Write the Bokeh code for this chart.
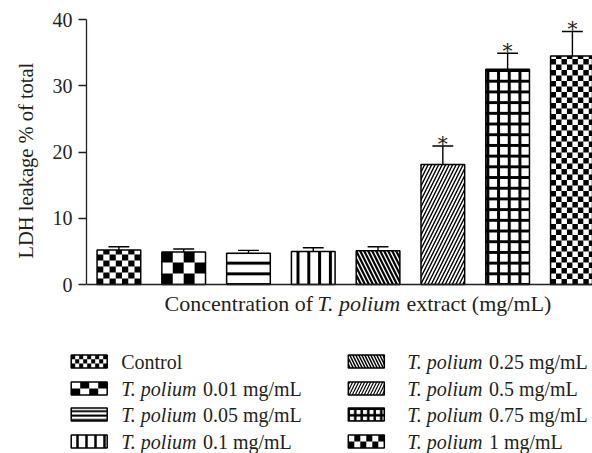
from bokeh.plotting import figure
from bokeh.models import Range1d, FixedTicker, Span, ColumnDataSource, Title
from bokeh.layouts import column, row
from bokeh.core.properties import value
from bokeh.embed import file_html
from bokeh.resources import INLINE

# ---------------- data ----------------
groups = ["Control", "0.01", "0.05", "0.1", "0.25", "0.5", "0.75", "1"]
ldh_values = [5.2, 4.9, 4.7, 5.0, 5.1, 18.1, 32.5, 34.5]
ldh_errors = [0.5, 0.45, 0.45, 0.55, 0.6, 2.8, 2.4, 3.7]
significant = [False, False, False, False, False, True, True, True]
legend_italic = ["", "T. polium", "T. polium", "T. polium", "T. polium", "T. polium", "T. polium", "T. polium"]
legend_regular = ["Control", "0.01 mg/mL", "0.05 mg/mL", "0.1 mg/mL",
                  "0.25 mg/mL", "0.5 mg/mL", "0.75 mg/mL", "1 mg/mL"]
y_ticks = [0, 10, 20, 30, 40]
x_title_parts = ["Concentration of ", "T. polium", " extract (mg/mL)"]
x_title_italic = [False, True, False]
y_title = "LDH leakage % of total"

# ---------------- styles ----------------
FONT = "Liberation Serif"
TXT = "#231f20"
bar_styles = [("checker", 6.3, 6.0), ("checker", 11.0, 11.0), ("-", 10.7, 3.0), ("|", 10.8, 3.0),
              ("\\", 8.0, 2.2), ("/", 7.0, 1.4), ("+", 10.7, 3.0), ("checker", 5.5, 5.5)]
leg_styles = [("checker", 4.0, 4.4), ("checker", 9.0, 6.5), ("-", 4.4, 2.0), ("|", 9.0, 2.5),
              ("\\", 6.0, 1.5), ("/", 6.0, 1.2), ("+", 6.5, 2.5), ("checker", 6.0, 6.5)]

REG = {' ': 250, 'C': 667, 'o': 500, 'n': 500, 'c': 444, 'e': 444, 't': 278, 'r': 333, 'a': 444,
       'i': 278, 'f': 333, 'x': 500, '(': 333, ')': 333, 'm': 778, 'g': 500, '/': 278, 'L': 611,
       '.': 250, 'T': 611, 'p': 500, 'l': 278, 'u': 500}
ITA = {'T': 556, '.': 250, ' ': 250, 'p': 500, 'o': 500, 'l': 278, 'i': 278, 'u': 500, 'm': 722}


def text_width(s, size, italic=False):
    table = ITA if italic else REG
    return sum(table.get(ch, 500) for ch in s) / 1000.0 * size


def checker_cells(x0, x1, y0, y1, cw, ch):
    n = max(1, int(round((x1 - x0) / cw)))
    cw = (x1 - x0) / n
    L, R, B, T = [], [], [], []
    sgn = 1 if y1 > y0 else -1
    iy = 0
    while True:
        b = y0 + sgn * iy * ch
        if sgn * (y1 - b) <= 1e-9:
            break
        t = b + sgn * ch
        if sgn * (t - y1) > 0:
            t = y1
        for ix in range(n):
            if (ix + iy) % 2 == 0:
                L.append(x0 + ix * cw)
                R.append(x0 + (ix + 1) * cw)
                B.append(b)
                T.append(t)
        iy += 1
    return L, R, B, T


# ---------------- main chart ----------------
W = 592
LEFT = 82
MAIN_H = 320          # frame spans 0..320 px; y=0 at 284 px, y=40 at 19 px
PX_PER_Y = 6.625
Y_ZERO_PX = 284
x0 = -0.5
PX_PER_X = 65.3
x1 = x0 + (W - LEFT) / PX_PER_X
y1 = Y_ZERO_PX / PX_PER_Y
y0 = -(MAIN_H - Y_ZERO_PX) / PX_PER_Y
sx, sy = PX_PER_X, PX_PER_Y
BAR_W = 0.674

p = figure(width=W, height=MAIN_H, x_range=Range1d(x0, x1), y_range=Range1d(y0, y1),
           output_backend="svg", toolbar_location=None, x_axis_location=None,
           min_border_left=LEFT, min_border_right=0, min_border_top=0, min_border_bottom=0)
p.outline_line_color = None
p.grid.visible = False
p.background_fill_color = "white"
p.border_fill_color = "white"

xs = list(range(len(groups)))
src = ColumnDataSource(dict(
    x=xs, top=ldh_values,
    hatch=[s[0] if s[0] != "checker" else " " for s in bar_styles],
    hscale=[s[1] for s in bar_styles],
    hweight=[s[2] if s[0] != "checker" else 1.0 for s in bar_styles],
))
p.vbar(x="x", top="top", bottom=0, width=BAR_W, source=src, fill_color="white",
       line_color=None, hatch_pattern="hatch", hatch_scale="hscale", hatch_weight="hweight",
       hatch_color="black")

cl, cr, cb, ct = [], [], [], []
for i, (pat, a, b) in enumerate(bar_styles):
    if pat == "checker":
        L, R, B, T = checker_cells(i - BAR_W / 2, i + BAR_W / 2, 0, ldh_values[i], a / sx, b / sy)
        cl += L; cr += R; cb += B; ct += T
p.quad(left=cl, right=cr, bottom=cb, top=ct, fill_color="black", line_color=None)

p.vbar(x=xs, top=ldh_values, bottom=0, width=BAR_W, fill_color=None, line_color="black",
       line_width=1.5)

err_top = [v + e for v, e in zip(ldh_values, ldh_errors)]
p.segment(x0=xs, y0=ldh_values, x1=xs, y1=err_top, line_color="black", line_width=1.4)
cap = 10.5 / sx
p.segment(x0=[x - cap for x in xs], y0=err_top, x1=[x + cap for x in xs], y1=err_top,
          line_color="black", line_width=1.4)

sx_sig = [x for x, s in zip(xs, significant) if s]
sy_sig = [t for t, s in zip(err_top, significant) if s]
p.text(x=sx_sig, y=sy_sig, text=["*"] * len(sx_sig), text_align="center",
       text_baseline="alphabetic", text_font=value("DejaVu Serif"), text_font_size="20px",
       text_color=TXT, y_offset=-2)

# x axis line (line at y = 0 across the frame)
p.add_layout(Span(location=0, dimension="width", line_color=TXT, line_width=1.5))

ax = p.yaxis[0]
ax.ticker = FixedTicker(ticks=y_ticks)
ax.bounds = (0, 40)
ax.minor_tick_line_color = None
ax.major_tick_in = 0
ax.major_tick_out = 8
ax.major_tick_line_color = TXT
ax.major_tick_line_width = 1.3
ax.axis_line_color = TXT
ax.axis_line_width = 1.3
ax.major_label_standoff = 6
ax.major_label_text_font = FONT
ax.major_label_text_font_size = "20px"
ax.major_label_text_color = TXT

ytitle = Title(text=y_title, align="left", offset=MAIN_H - 258, text_font=FONT,
               text_font_size="20.5px", text_font_style="normal", text_color=TXT, standoff=25)
p.add_layout(ytitle, "left")

# x axis title, drawn as three runs (regular / italic / regular)
TITLE_SIZE = 22
title_center_px = 355.0
title_mid_px = 303.0
total = sum(text_width(s, TITLE_SIZE, it) for s, it in zip(x_title_parts, x_title_italic))
pos_px = title_center_px - total / 2
for s, it in zip(x_title_parts, x_title_italic):
    lead = s[:len(s) - len(s.lstrip())]
    pos_px += text_width(lead, TITLE_SIZE, it)
    core = s.strip()
    p.text(x=[x0 + (pos_px - LEFT) / sx], y=[(Y_ZERO_PX - title_mid_px) / sy], text=[core],
           text_align="left", text_baseline="middle", text_font=value(FONT),
           text_font_size=f"{TITLE_SIZE}px", text_color=TXT,
           text_font_style="italic" if it else "normal")
    pos_px += text_width(s.lstrip(), TITLE_SIZE, it)

# ---------------- legend panel (coordinates = pixels of this panel) ----------------
LEG_H = 453 - MAIN_H
lg = figure(width=W, height=LEG_H, x_range=Range1d(0, W), y_range=Range1d(LEG_H, 0),
            output_backend="svg", toolbar_location=None, x_axis_location=None,
            y_axis_location=None, min_border=0)
lg.outline_line_color = None
lg.grid.visible = False

LEG_SIZE = 20
row_y = [361 - MAIN_H, 388 - MAIN_H, 414 - MAIN_H, 441 - MAIN_H]
col_swatch_x = [88.7, 365.8]
col_text_x = [120.7, 406.7]
SW, SH = 36, 13
for i in range(len(groups)):
    col, rw = divmod(i, 4)
    cxs, cys = col_swatch_x[col], row_y[rw]
    pat, a, b = leg_styles[i]
    if pat == "checker":
        lg.rect(x=[cxs], y=[cys], width=SW, height=SH, fill_color="white", line_color=None)
        L, R, B, T = checker_cells(cxs - SW / 2, cxs + SW / 2, cys + SH / 2, cys - SH / 2, a, b)
        lg.quad(left=L, right=R, bottom=B, top=T, fill_color="black", line_color=None)
    else:
        lg.rect(x=[cxs], y=[cys], width=SW, height=SH, fill_color="white", line_color=None,
                hatch_pattern=pat, hatch_scale=a, hatch_weight=b, hatch_color="black")
    lg.rect(x=[cxs], y=[cys], width=SW, height=SH, fill_color=None, line_color="black",
            line_width=1.5)
    tx = col_text_x[col]
    if legend_italic[i]:
        lg.text(x=[tx], y=[cys], text=[legend_italic[i]], text_align="left",
                text_baseline="middle", text_font=value(FONT), text_font_size=f"{LEG_SIZE}px",
                text_color=TXT, text_font_style="italic")
        tx += text_width(legend_italic[i] + " ", LEG_SIZE, True)
    lg.text(x=[tx], y=[cys], text=[legend_regular[i]], text_align="left",
            text_baseline="middle", text_font=value(FONT), text_font_size=f"{LEG_SIZE}px",
            text_color=TXT)

layout = column(row(p), row(lg), spacing=0)
open("out.html", "w").write(file_html(layout, INLINE))
